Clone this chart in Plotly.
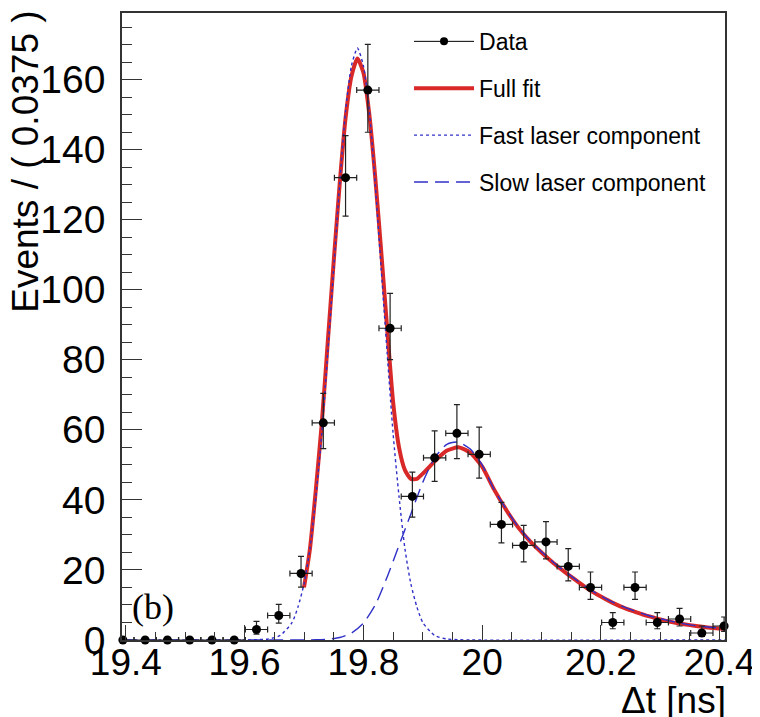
import plotly.graph_objects as go

# ---------------- data ----------------
bin_centers = [19.395, 19.4325, 19.47, 19.5075, 19.545, 19.5825, 19.62, 19.6575,
               19.695, 19.7325, 19.77, 19.8075, 19.845, 19.8825, 19.92, 19.9575,
               19.995, 20.0325, 20.07, 20.1075, 20.145, 20.1825, 20.22, 20.2575,
               20.295, 20.3325, 20.37, 20.4075]
counts = [0, 0, 0, 0, 0, 0, 3, 7, 19, 62, 132, 157, 89, 41, 52, 59, 53, 33, 27,
          28, 21, 15, 5, 15, 5, 6, 2, 4]
err_up = [0, 0, 0, 0, 0, 0, 2.30, 3.19, 4.89, 8.39, 12.0, 13.04, 9.95, 6.92, 7.73,
          8.20, 7.80, 6.27, 5.72, 5.82, 5.11, 4.41, 2.79, 4.41, 2.79, 3.0, 2.0, 2.56]
err_dn = [0, 0, 0, 0, 0, 0, 1.30, 2.19, 3.89, 7.39, 11.0, 12.04, 8.95, 5.92, 6.73,
          7.20, 6.80, 5.27, 4.72, 4.82, 4.11, 3.41, 1.79, 3.41, 1.79, 2.0, 1.0, 1.56]
half_bin = 0.01875

full_t = [19.70, 19.71, 19.72, 19.73, 19.74, 19.75, 19.76, 19.77, 19.78, 19.79,
          19.80, 19.81, 19.82, 19.83, 19.84, 19.85, 19.86, 19.87, 19.88, 19.89,
          19.90, 19.92, 19.94, 19.96, 19.98, 20.00, 20.02, 20.04, 20.06, 20.08,
          20.10, 20.12, 20.14, 20.16, 20.18, 20.20, 20.22, 20.24, 20.26, 20.28,
          20.30, 20.32, 20.34, 20.36, 20.38, 20.409]
full_fit = [15, 26, 43, 62, 85, 108, 130, 149, 161, 166,
            162, 150, 132, 111, 89, 68, 55, 48.5, 46, 46,
            47.5, 51, 54, 55, 53.5, 49.5, 43, 37.3, 32.3, 28.3,
            25.0, 22.0, 19.3, 16.8, 14.4, 12.4, 10.6, 9.1, 7.9, 6.8,
            5.9, 5.1, 4.5, 4.0, 3.6, 3.2]

fast_t = [19.3935, 19.60, 19.62, 19.64, 19.66, 19.68, 19.69, 19.70, 19.71, 19.72,
          19.73, 19.74, 19.75, 19.76, 19.77, 19.78, 19.79, 19.80, 19.81, 19.82,
          19.83, 19.84, 19.85, 19.86, 19.87, 19.88, 19.89, 19.90, 19.92, 19.94,
          19.96, 19.98, 20.409]
fast_comp = [0, 0, 0.1, 0.3, 1.3, 5, 9.5, 16, 26, 41,
             59, 82, 106, 130, 151, 164, 169, 164, 151, 130,
             106, 82, 59, 41, 26, 16, 9.5, 5, 1.3, 0.3,
             0.1, 0, 0]

slow_t = [19.3935, 19.70, 19.72, 19.74, 19.76, 19.78, 19.80, 19.82, 19.84, 19.86,
          19.88, 19.90, 19.92, 19.94, 19.96, 19.98, 20.00, 20.02, 20.04, 20.06,
          20.08, 20.10, 20.12, 20.14, 20.16, 20.18, 20.20, 20.22, 20.24, 20.26,
          20.28, 20.30, 20.32, 20.34, 20.36, 20.38, 20.409]
slow_comp = [0, 0, 0.05, 0.2, 0.7, 2, 4.8, 10, 18, 27,
             36, 45, 52, 55.8, 56.5, 54.5, 50, 43, 37.5, 32.5,
             28.5, 25.2, 22.2, 19.5, 17, 14.6, 12.6, 10.8, 9.3, 8.1,
             7.0, 6.1, 5.3, 4.6, 4.1, 3.7, 3.3]

x_ticks = [19.4, 19.6, 19.8, 20.0, 20.2, 20.4]
x_tick_text = ["19.4", "19.6", "19.8", "20", "20.2", "20.4"]
y_ticks = [0, 20, 40, 60, 80, 100, 120, 140, 160]

# ---------------- styles ----------------
RED = "#d82828"
BLUE = "#3030c8"
FONT = "Liberation Sans, Arial, Helvetica, sans-serif"

fig = go.Figure()

# legend-only entry for the data (line + dot look)
fig.add_trace(go.Scatter(
    x=[None], y=[None], mode="lines+markers", name="Data",
    line=dict(color="black", width=1), marker=dict(color="black", size=8),
    legendgroup="a"))

fig.add_trace(go.Scatter(
    x=full_t, y=full_fit, mode="lines", name="Full fit",
    line=dict(color=RED, width=4, shape="spline", smoothing=0.6),
    legendgroup="b"))

fig.add_trace(go.Scatter(
    x=fast_t, y=fast_comp, mode="lines", name="Fast laser component",
    line=dict(color=BLUE, width=1.4, dash="3px,3px", shape="spline", smoothing=0.6),
    legendgroup="c"))

fig.add_trace(go.Scatter(
    x=slow_t, y=slow_comp, mode="lines", name="Slow laser component",
    line=dict(color=BLUE, width=1.4, dash="14px,7px", shape="spline", smoothing=0.6),
    legendgroup="d"))

fig.add_trace(go.Scatter(
    x=bin_centers, y=counts, mode="markers", showlegend=False, legendgroup="a",
    marker=dict(color="black", size=9),
    error_x=dict(type="constant", value=half_bin, color="#222222", thickness=1.2, width=3),
    error_y=dict(type="data", array=err_up, arrayminus=err_dn, symmetric=False,
                 color="#222222", thickness=1.2, width=3),
    cliponaxis=False))

axis_common = dict(
    showline=True, linecolor="#333333", linewidth=1.5, mirror=True,
    ticks="inside", tickcolor="#333333", tickwidth=1.3,
    showgrid=False, zeroline=False, automargin=False,
)

fig.update_xaxes(
    range=[19.3935, 20.409], tickmode="array", tickvals=x_ticks, ticktext=x_tick_text,
    ticklen=15, minor=dict(ticks="inside", ticklen=8, dtick=0.05, tick0=19.4,
                           tickcolor="#333333", tickwidth=1.3),
    tickfont=dict(family=FONT, size=37, color="black"),
    ticklabelstandoff=-11, **axis_common)

fig.update_yaxes(
    range=[0, 179], tickmode="array", tickvals=y_ticks,
    ticklen=20, minor=dict(ticks="inside", ticklen=10, dtick=5, tick0=0,
                           tickcolor="#333333", tickwidth=1.3),
    tickfont=dict(family=FONT, size=39, color="black"),
    ticklabelstandoff=7, **axis_common)

# the page body adds an 8 px offset at the top-left, so the figure is 8 px
# smaller and the left/top margins are reduced by that amount
fig.update_layout(
    width=752, height=709,
    margin=dict(l=114, r=35, t=5, b=77, autoexpand=False),
    paper_bgcolor="white", plot_bgcolor="white",
    font=dict(family=FONT, color="black"),
    showlegend=True,
    legend=dict(x=0.476, y=0.989, xanchor="left", yanchor="top",
                font=dict(family=FONT, size=23, color="black"),
                bgcolor="rgba(0,0,0,0)", borderwidth=0,
                tracegroupgap=14, itemwidth=60, traceorder="grouped"),
    annotations=[
        dict(text="Events / ( 0.0375 )", xref="paper", yref="paper",
             x=-0.16, y=1.006, xanchor="center", yanchor="top", textangle=-90,
             showarrow=False, font=dict(family=FONT, size=37, color="black")),
        dict(text="Δt [ns]", xref="paper", yref="paper",
             x=1.005, y=-0.097, xanchor="right", yanchor="middle",
             showarrow=False, font=dict(family=FONT, size=37, color="black")),
        dict(text="(b)", xref="x", yref="y", x=19.407, y=9.5,
             xanchor="left", yanchor="middle", showarrow=False,
             font=dict(family="Liberation Serif, Times New Roman, serif", size=36,
                       color="black")),
    ],
)

fig.write_html("out.html")
